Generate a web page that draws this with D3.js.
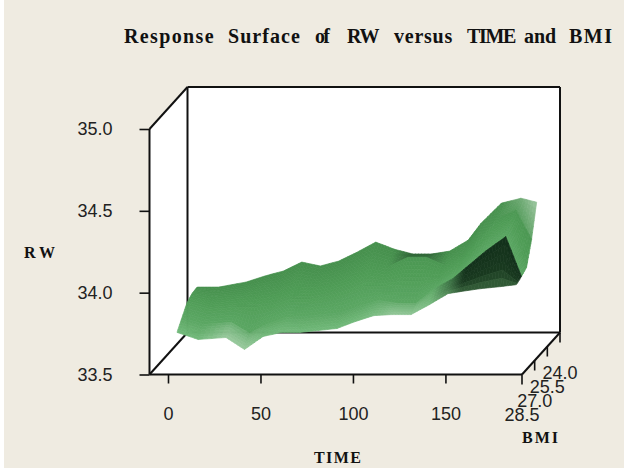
<!DOCTYPE html>
<html><head><meta charset="utf-8">
<script src="https://cdn.jsdelivr.net/npm/d3@7"></script>
<style>html,body{margin:0;padding:0;background:#fff}svg{display:block}</style>
</head><body><svg id="c" width="624" height="468"></svg>
<script>
const timeTicks = [0, 50, 100, 150];
const rwTicks = [33.5, 34.0, 34.5, 35.0];
const bmiTicks = [28.5, 27.0, 25.5, 24.0];
const timeGrid = [3.5,15,30,40,50,60,70,80,90,100,110,120,130,140,150,157,168,178.5,187];
const bmiGrid = [28.2,27.6,27.0,26.4,25.8];
const rwAt282 = [33.740,33.697,33.709,33.636,33.715,33.740,33.740,33.752,33.764,33.807,33.843,33.849,33.849,33.910,33.977,33.990,34.008,34.020,34.032];
const rwAt276 = [33.798,33.755,33.767,33.700,33.761,33.798,33.804,33.816,33.828,33.871,33.901,33.883,33.883,33.974,34.035,34.102,34.206,34.291,34.048];
const rwAt270 = [33.855,33.813,33.825,33.825,33.837,33.874,33.874,33.892,33.929,33.977,33.971,33.984,33.984,33.996,34.069,34.142,34.264,34.337,34.069];
const rwAt264 = [33.877,33.853,33.871,33.890,33.908,33.957,33.945,33.969,34.012,34.066,34.042,34.097,34.097,34.048,34.115,34.201,34.329,34.384,34.207];
const rwAt258 = [33.880,33.880,33.911,33.948,33.978,34.033,34.009,34.039,34.094,34.155,34.112,34.082,34.082,34.100,34.167,34.271,34.393,34.423,34.399];
const rwRows = [rwAt282,rwAt276,rwAt270,rwAt264,rwAt258];
const titleWords = ['Response','Surface','of','RW','versus','TIME','and','BMI'];

const svg = d3.select('#c');
const BG = '#efebe1', SANS = '"Liberation Sans",Arial,sans-serif', SERIF = '"Liberation Serif","Times New Roman",serif';
svg.append('rect').attr('width',624).attr('height',468).attr('fill','#fff');
svg.append('rect').attr('x',4).attr('width',620).attr('height',468).attr('fill',BG);

const xT = d3.scaleLinear().domain([-10,191.4]).range([149.5,522]);
const yR = d3.scaleLinear().domain([33.5,35]).range([374.5,129]);
const dX = d3.scaleLinear().domain([28.5,24]).range([0,38]);
const dY = d3.scaleLinear().domain([28.5,24]).range([0,42]);
const px = (t,b) => xT(t)+dX(b);
const py = (r,b) => yR(r)-dY(b);
const [tA,tB] = xT.domain(), [rA,rB] = yR.domain(), bF = 28.5, bB = 24;

svg.append('polygon').attr('fill','#fff').attr('points',[
  [px(tA,bF),py(rB,bF)],[px(tA,bB),py(rB,bB)],[px(tB,bB),py(rB,bB)],
  [px(tB,bB),py(rA,bB)],[px(tB,bF),py(rA,bF)],[px(tA,bF),py(rA,bF)]].join(' '));
const frame = [
 [[tA,rA,bF],[tA,rB,bF]],[[tA,rB,bF],[tA,rB,bB]],[[tA,rB,bB],[tB,rB,bB]],
 [[tB,rB,bB],[tB,rA,bB]],[[tA,rB,bB],[tA,rA,bB]],[[tA,rA,bB],[tB,rA,bB]],
 [[tA,rA,bF],[tA,rA,bB]],[[tA,rA,bF],[tB,rA,bF]],[[tB,rA,bF],[tB,rA,bB]]];
svg.append('g').selectAll('line').data(frame).join('line')
 .attr('x1',d=>px(d[0][0],d[0][2])).attr('y1',d=>py(d[0][1],d[0][2]))
 .attr('x2',d=>px(d[1][0],d[1][2])).attr('y2',d=>py(d[1][1],d[1][2]))
 .attr('stroke','#111').attr('stroke-width',2);

// surface shading derived from each facet's slopes
const nC = timeGrid.length, nR = bmiGrid.length;
const clamp01 = a => Math.max(0,Math.min(1,a));
const sp = (i,j) => [px(timeGrid[i],bmiGrid[j]), py(rwRows[j][i],bmiGrid[j])];
const metric = (i,j) => {
  const zA=yR(rwRows[j][i]), zB=yR(rwRows[j][i+1]), zC=yR(rwRows[j+1][i]), zD=yR(rwRows[j+1][i+1]);
  const dx=xT(timeGrid[i+1])-xT(timeGrid[i]), dyd=dX(bmiGrid[j+1])-dX(bmiGrid[j]);
  const depthPx=dyd*3.2;
  const slopeX=((zA+zC)-(zB+zD))/2/dx;
  const slopeY=((zA+zB)-(zC+zD))/2/depthPx;
  const m=Math.hypot(slopeX,slopeY,1);
  const nx=-slopeX/m;
  let dark=0, pale=0;
  if (j===0) {
    dark=clamp01((slopeY-0.7)/0.15);
    pale=Math.max(clamp01((0.55-slopeY)/0.25),clamp01((nx-0.28)/0.08)*1.4);
  }
  if (j===nR-2) {
    pale=clamp01((nx-0.3)/0.3);
    if (slopeY<-0.05) dark=1;
  }
  return {dark,pale};
};
const M = d3.range(nC-1).map(i=>d3.range(nR-1).map(j=>metric(i,j)));
const side = (i,j,k,di) => {
  const o=M[i+di]; return o ? (M[i][j][k]+o[j][k])/2 : M[i][j][k];
};
const depthCol = d3.scaleLinear().domain([0,0.4,0.75,1]).range(['#468f4c','#4f9c56','#5ba763','#72b87a']);
const darkCol = d3.scaleLinear().domain([0,0.35,1]).range(['#37633c','#1a3a20','#12301a']);
const SUB = 6, quads = [];
for (let j=nR-2;j>=0;j--) for (let i=0;i<nC-1;i++) {
  const A=sp(i,j),B=sp(i+1,j),C=sp(i,j+1),D=sp(i+1,j+1);
  const bl=(p,q,r,s,u,v)=>(1-u)*(1-v)*p+u*(1-v)*q+(1-u)*v*r+u*v*s;
  const pt=(u,v)=>[bl(A[0],B[0],C[0],D[0],u,v),bl(A[1],B[1],C[1],D[1],u,v)];
  const dL=side(i,j,'dark',-1),dR=side(i,j,'dark',1),pL=side(i,j,'pale',-1),pR=side(i,j,'pale',1);
  for (let v=SUB-1;v>=0;v--) for (let u=0;u<SUB;u++) {
    const u0=u/SUB,u1=(u+1)/SUB,v0=v/SUB,v1=(v+1)/SUB,um=(u0+u1)/2,vm=(v0+v1)/2;
    const f=1-(j+vm)/(nR-1);
    let col=depthCol(f);
    const paleAmt=(pL+(pR-pL)*um)*(j===0?(1-0.75*vm):(0.3+0.7*vm));
    col=d3.interpolateRgb(col,'#a9cfac')(clamp01(paleAmt));
    const darkAmt=dL+(dR-dL)*um;
    col=d3.interpolateRgb(col,j===0?darkCol(vm):'#1c3f24')(clamp01(darkAmt));
    quads.push({pts:[pt(u0,v0),pt(u1,v0),pt(u1,v1),pt(u0,v1)],col});
  }
}
svg.append('g').selectAll('polygon').data(quads).join('polygon')
  .attr('points',d=>d.pts.map(p=>p.map(a=>a.toFixed(1)).join(',')).join(' '))
  .attr('fill',d=>d.col).attr('stroke',d=>d.col).attr('stroke-width',0.7);

const styleAxis = g => {
  g.select('.domain').remove();
  g.selectAll('line').attr('stroke','#111').attr('stroke-width',1.6);
  g.selectAll('text').attr('font-family',SANS).attr('font-size',18).attr('fill','#222');
};
svg.append('g').attr('transform',`translate(${xT(tA)},0)`)
  .call(d3.axisLeft(yR).tickValues(rwTicks).tickFormat(d3.format('.1f')).tickSize(10).tickPadding(27)).call(styleAxis);
svg.append('g').attr('transform',`translate(0,${yR(rA)})`)
  .call(d3.axisBottom(xT).tickValues(timeTicks).tickSize(9).tickPadding(24)).call(styleAxis);
const bmiG = svg.append('g');
bmiG.selectAll('line').data(bmiTicks).join('line')
  .attr('x1',d=>px(tB,d)).attr('x2',d=>px(tB,d))
  .attr('y1',d=>py(rA,d)).attr('y2',d=>py(rA,d)+10)
  .attr('stroke','#111').attr('stroke-width',1.6);
bmiG.selectAll('text').data(bmiTicks).join('text')
  .attr('x',d=>px(tB,d)).attr('y',d=>py(rA,d)+46.5).attr('text-anchor','middle')
  .attr('font-family',SANS).attr('font-size',18).attr('fill','#222').text(d=>d3.format('.1f')(d));

const label = (txt,x,y,len) => svg.append('text').attr('x',x).attr('y',y)
  .attr('font-family',SERIF).attr('font-weight','bold').attr('font-size',16).attr('fill','#111')
  .attr('textLength',len).attr('lengthAdjust','spacing').text(txt);
const wordX = [124,228,315,347,394,467,524,569], wordW = [96,78,18,36,64,53,37,43];
svg.append('text').attr('y',43).attr('font-family',SERIF).attr('font-weight','bold')
  .attr('font-size',20).attr('fill','#111')
  .selectAll('tspan').data(titleWords).join('tspan')
  .attr('x',(d,i)=>wordX[i]).attr('textLength',(d,i)=>wordW[i]).attr('lengthAdjust','spacing')
  .text((d,i)=>i<titleWords.length-1?d+' ':d);
label('RW',24,258,31);
label('TIME',314,463,47);
label('BMI',522,443,36);
</script></body></html>
